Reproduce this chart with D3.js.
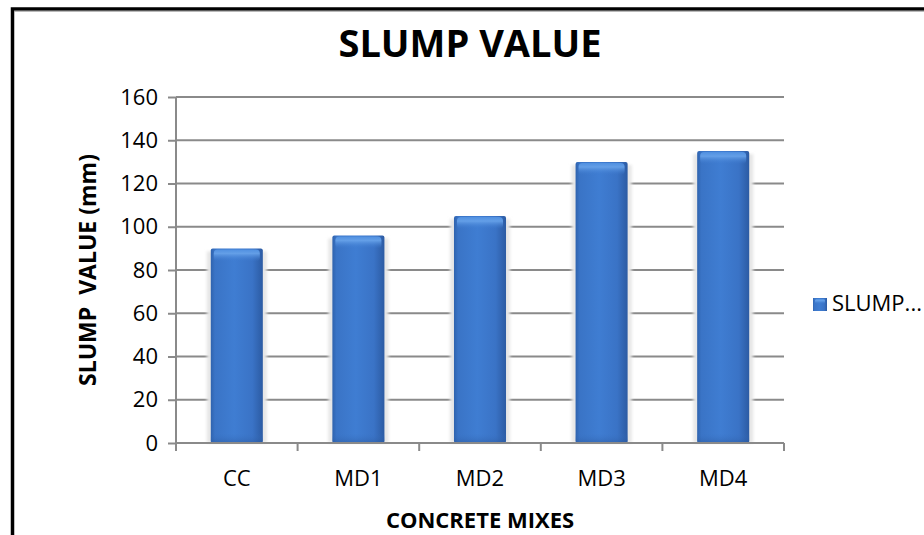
<!DOCTYPE html>
<html>
<head>
<meta charset="utf-8">
<script src="https://cdn.jsdelivr.net/npm/d3@7/dist/d3.min.js"></script>
<style>
  html, body { margin: 0; padding: 0; background: #fff; }
  svg { display: block; font-family: "Open Sans", "Noto Sans", sans-serif; }
</style>
</head>
<body>
<svg id="chart" width="924" height="535"></svg>
<script>
// Slump test results per concrete mix
const categories = ["CC", "MD1", "MD2", "MD3", "MD4"];
const slumpValues = [90, 96, 105, 130, 135];
const yTicks = [0, 20, 40, 60, 80, 100, 120, 140, 160];
const seriesName = "SLUMP...";

const svg = d3.select("#chart");
const plot = { left: 176, right: 784, top: 97, bottom: 443 };

// outer frame
svg.append("rect")
  .attr("x", 12.5).attr("y", 9).attr("width", 940).attr("height", 560)
  .attr("fill", "none").attr("stroke", "#000").attr("stroke-width", 3.5);
svg.append("line")
  .attr("x1", 14).attr("x2", 924).attr("y1", 11.2).attr("y2", 11.2)
  .attr("stroke", "#9a9a9a").attr("stroke-width", 1);

const defs = svg.append("defs");
const bodyGrad = defs.append("linearGradient").attr("id", "barBody")
  .attr("x1", "0").attr("x2", "1").attr("y1", "0").attr("y2", "0");
[["0%", "#2f63ae"], ["8%", "#3a74c6"], ["45%", "#3f7dd2"], ["80%", "#3a73c6"], ["100%", "#2c5ba3"]]
  .forEach(([o, c]) => bodyGrad.append("stop").attr("offset", o).attr("stop-color", c));
const capGrad = defs.append("linearGradient").attr("id", "barCap")
  .attr("x1", "0").attr("x2", "0").attr("y1", "0").attr("y2", "1");
[["0%", "#4f8fe0", 1], ["35%", "#68a3ea", 0.9], ["100%", "#3f7dd2", 0]]
  .forEach(([o, c, a]) => capGrad.append("stop").attr("offset", o).attr("stop-color", c).attr("stop-opacity", a));
const baseGrad = defs.append("linearGradient").attr("id", "barBase")
  .attr("x1", "0").attr("x2", "0").attr("y1", "0").attr("y2", "1");
[["0%", "#3a74c6", 0], ["100%", "#2a589e", 1]]
  .forEach(([o, c, a]) => baseGrad.append("stop").attr("offset", o).attr("stop-color", c).attr("stop-opacity", a));
defs.append("filter").attr("id", "soft").attr("x", "-30%").attr("y", "-10%").attr("width", "160%").attr("height", "120%")
  .append("feGaussianBlur").attr("stdDeviation", 1.5);

const x = d3.scaleBand().domain(categories)
  .range([plot.left, plot.right]).paddingInner(0.572).paddingOuter(0.286);
const y = d3.scaleLinear().domain([0, 160]).range([plot.bottom, plot.top]);

// horizontal gridlines
svg.append("g").selectAll("line").data(yTicks.filter(d => d > 0)).join("line")
  .attr("x1", plot.left).attr("x2", plot.right)
  .attr("y1", d => y(d)).attr("y2", d => y(d))
  .attr("stroke", "#8a8a8a").attr("stroke-width", 2);

// bars: soft shadow, shaded body, lighter top bevel, darker foot
const bars = svg.append("g").selectAll("g").data(categories).join("g");
bars.append("rect")
  .attr("x", d => x(d) - 4).attr("width", x.bandwidth() + 8)
  .attr("y", (d, i) => y(slumpValues[i]) + 3)
  .attr("height", (d, i) => plot.bottom - y(slumpValues[i]) - 3)
  .attr("fill", "#e6e6e6").attr("filter", "url(#soft)");
bars.append("rect")
  .attr("x", d => x(d)).attr("width", x.bandwidth())
  .attr("y", (d, i) => y(slumpValues[i]))
  .attr("height", (d, i) => plot.bottom - y(slumpValues[i]))
  .attr("rx", 2)
  .attr("fill", "url(#barBody)");
bars.append("rect")
  .attr("x", d => x(d) + 3).attr("width", x.bandwidth() - 6)
  .attr("y", (d, i) => y(slumpValues[i]) + 1)
  .attr("height", 12).attr("rx", 4)
  .attr("fill", "url(#barCap)");
bars.append("rect")
  .attr("x", d => x(d)).attr("width", x.bandwidth())
  .attr("y", plot.bottom - 10).attr("height", 10)
  .attr("fill", "url(#barBase)").attr("opacity", 0.5);

// axes
const yAxis = d3.axisLeft(y).tickValues(yTicks).tickSize(8).tickPadding(10);
const gy = svg.append("g").attr("transform", `translate(${plot.left},0)`).call(yAxis);
gy.select(".domain").remove();
gy.append("line").attr("x1", 0).attr("x2", 0).attr("y1", plot.top).attr("y2", plot.bottom + 8)
  .attr("stroke", "#8a8a8a").attr("stroke-width", 2);
gy.selectAll(".tick line").attr("stroke", "#8a8a8a").attr("stroke-width", 2);
gy.selectAll(".tick text").attr("fill", "#000").attr("font-size", 22)
  .attr("font-family", "'Open Sans', sans-serif");

const gx = svg.append("g").attr("transform", `translate(0,${plot.bottom})`);
gx.append("line").attr("x1", plot.left).attr("x2", plot.right).attr("y1", 0).attr("y2", 0)
  .attr("stroke", "#8a8a8a").attr("stroke-width", 2);
const boundaries = categories.map(d => x(d) - x.step() * x.paddingInner() / 2).concat([plot.right]);
gx.selectAll("line.b").data(boundaries).join("line").attr("class", "b")
  .attr("x1", d => d).attr("x2", d => d).attr("y1", 0).attr("y2", 8)
  .attr("stroke", "#8a8a8a").attr("stroke-width", 2);
gx.selectAll("text").data(categories).join("text")
  .attr("x", d => x(d) + x.bandwidth() / 2).attr("y", 43)
  .attr("text-anchor", "middle").attr("font-size", 22).attr("fill", "#000")
  .text(d => d);

// titles
svg.append("text").attr("x", 470).attr("y", 57).attr("text-anchor", "middle")
  .attr("font-size", 38).attr("font-weight", "bold").text("SLUMP VALUE");
svg.append("text").attr("x", (plot.left + plot.right) / 2).attr("y", 528).attr("text-anchor", "middle")
  .attr("font-size", 22).attr("font-weight", "bold").text("CONCRETE MIXES");
svg.append("text")
  .attr("transform", `translate(96,${(plot.top + plot.bottom) / 2}) rotate(-90)`)
  .attr("text-anchor", "middle").attr("font-size", 23).attr("font-weight", "bold")
  .attr("xml:space", "preserve").style("white-space", "pre")
  .text("SLUMP  VALUE (mm)");

// legend
const legend = svg.append("g").attr("transform", "translate(813,298)");
legend.append("rect").attr("width", 14).attr("height", 13).attr("fill", "url(#barBody)");
legend.append("rect").attr("x", 2).attr("y", 1).attr("width", 10).attr("height", 5).attr("rx", 1.5).attr("fill", "url(#barCap)");
legend.append("text").attr("x", 19).attr("y", 13).attr("font-size", 22).attr("fill", "#000").text(seriesName);
</script>
</body>
</html>
